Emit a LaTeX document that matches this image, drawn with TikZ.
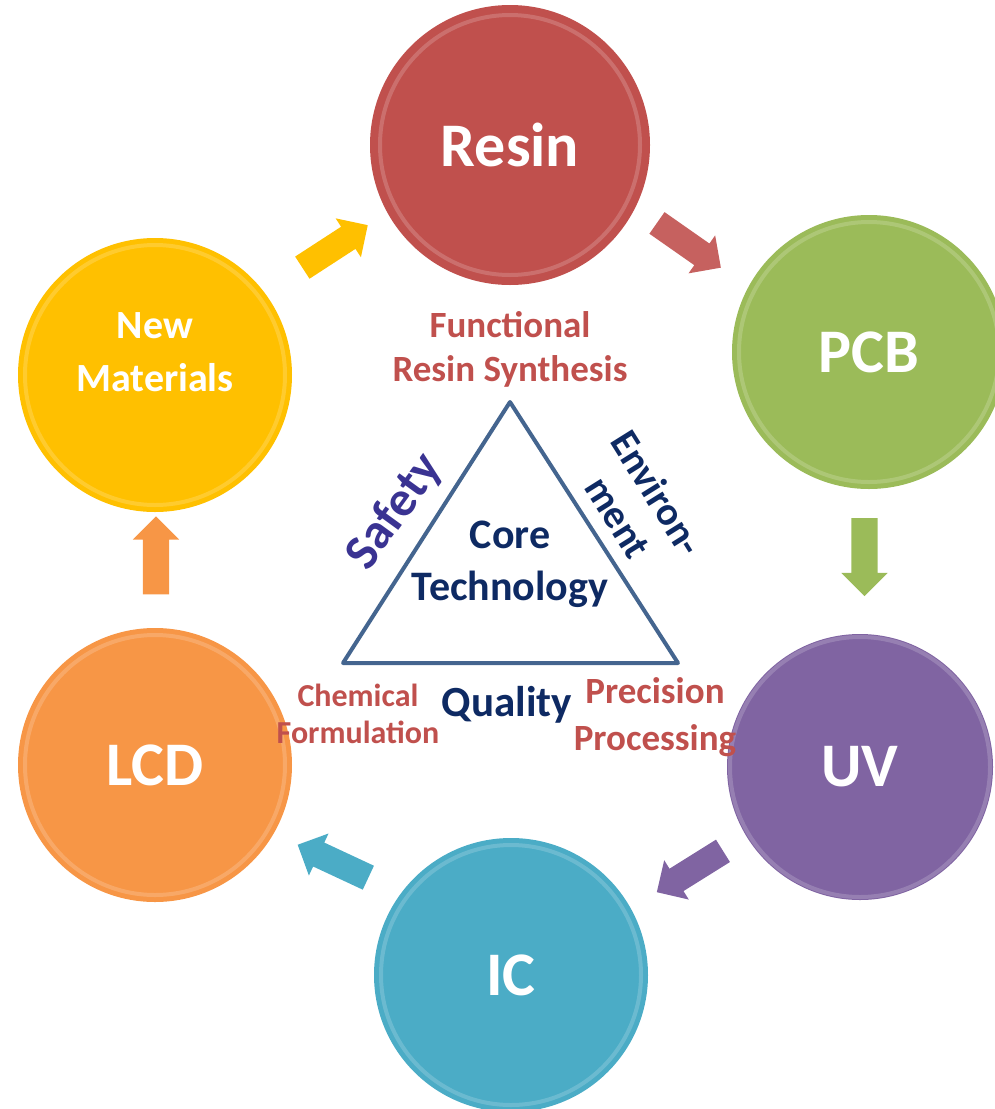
\documentclass[tikz,border=0pt]{standalone}
\usepackage{fontspec}
\setmainfont{Carlito}
\usetikzlibrary{positioning,shapes.arrows,calc}
\definecolor{resinc}{HTML}{C0504D}
\definecolor{pcbc}{HTML}{9BBB59}
\definecolor{uvc}{HTML}{8064A2}
\definecolor{icc}{HTML}{4BACC6}
\definecolor{lcdc}{HTML}{F79646}
\definecolor{newc}{HTML}{FFC000}
\definecolor{labred}{HTML}{C0504D}
\definecolor{navy}{HTML}{0E2A63}
\definecolor{indigo}{HTML}{3A3392}
\definecolor{triline}{HTML}{44658F}
\tikzset{
    bubble/.style={circle, minimum size=274pt, inner sep=0, text=white, align=center,
      font=\fontsize{62}{62}\selectfont\bfseries},
    gloss/.style={draw=white, draw opacity=0.18, line width=4pt},
    blockarr/.style={single arrow, minimum height=78pt, inner xsep=0, inner ysep=13pt,
      single arrow head extend=10pt, draw=none},
    redtxt/.style={text=labred, align=center, font=\fontsize{37}{44}\selectfont\bfseries},
    bluetxt/.style={text=navy, align=center, font=\fontsize{42}{52}\selectfont\bfseries},
    tri/.style={draw=triline, line width=4pt, line join=round},
  }

\begin{document}
\begin{tikzpicture}[x=1pt, y=-1pt]
    \useasboundingbox (0,0) rectangle (994,1109);
    \node (resin) [bubble, fill=resinc, minimum size=280pt] at (510,145) {Resin};
    \node (pcb) [bubble, fill=pcbc] at (869,352) {PCB};
    \node (uv) [bubble, fill=uvc, minimum size=266pt] at (860,767) {UV};
    \node (ic) [bubble, fill=icc] at (511,975) {IC};
    \node (lcd) [bubble, fill=lcdc] at (155,765) {LCD};
    \node (newmat) [bubble, fill=newc] at (155,375) {};
    \node (newtxt) [text=white, align=center, font=\fontsize{40}{53}\selectfont\bfseries]
      at (155,352) {New\\Materials};
    \foreach \c in {resin,pcb,uv,ic,lcd,newmat}
      \draw [gloss] (\c.center) circle [radius=130];

    \node (a1) [blockarr, fill=newc, rotate=33] at ($(newmat)!0.5!(resin)+(-3,-10)$) {};
    \node (a2) [blockarr, fill=resinc!90!white, rotate=-35] at ($(resin)!0.5!(pcb)+(-6,-7)$) {};
    \node (a3) [blockarr, fill=pcbc, rotate=-90] at ($(pcb)!0.5!(uv)+(0,-9)$) {};
    \node (a4) [blockarr, fill=uvc, rotate=212] at ($(uv)!0.5!(ic)+(10,-3)$) {};
    \node (a5) [blockarr, fill=icc, rotate=155] at ($(ic)!0.5!(lcd)+(6,-6)$) {};
    \node (a6) [blockarr, fill=lcdc, rotate=90] at ($(lcd)!0.5!(newmat)+(1,-8)$) {};

    \coordinate (apex) at (510,402);
    \coordinate (bl) at (343,663);
    \coordinate (br) at (678,663);
    \draw [tri] (apex) -- (br) -- (bl) -- cycle;

    \node (core) [bluetxt] at (510,564) {Core\\Technology};
    \node (safety) [bluetxt, text=indigo, rotate=54, font=\fontsize{50}{50}\selectfont\bfseries]
      at (395,512) {Safety};
    \node (env) [bluetxt, rotate=-58, font=\fontsize{40}{46}\selectfont\bfseries]
      at (638,505) {Environ-\\ment};
    \node (quality) [bluetxt, font=\fontsize{43}{43}\selectfont\bfseries] at (507,705) {Quality};

    \node (func) [redtxt] at (510,349) {Functional\\Resin Synthesis};
    \node (chem) [redtxt, font=\fontsize{32}{37}\selectfont\bfseries] at (358,714) {Chemical\\Formulation};
    \node (prec) [redtxt, font=\fontsize{37}{47}\selectfont\bfseries] at (655,717) {Precision\\Processing};
\end{tikzpicture}
\end{document}
